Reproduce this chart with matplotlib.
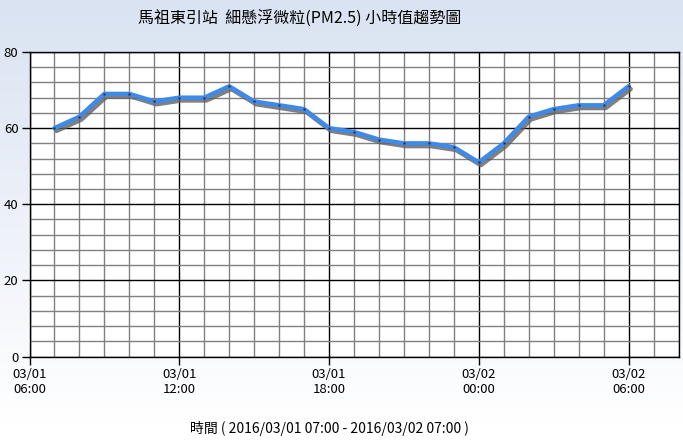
import matplotlib
matplotlib.use("Agg")
import matplotlib.pyplot as plt
import matplotlib.patheffects as pe
import numpy as np
from matplotlib.ticker import MultipleLocator, FixedLocator

plt.rcParams['font.family'] = ['Noto Sans CJK TC', 'DejaVu Sans']

# hours since 2016/03/01 06:00
hours = [1, 2, 3, 4, 5, 6, 7, 8, 9, 10, 11, 12, 13, 14, 15, 16, 17, 18,
         19, 20, 21, 22, 23, 24]
pm25 = [60, 63, 69, 69, 67, 68, 68, 71, 67, 66, 65, 60, 59, 57, 56, 56,
        55, 51, 56, 63, 65, 66, 66, 71]
tick_hours = [0, 6, 12, 18, 24]
tick_labels = ["03/01\n06:00", "03/01\n12:00", "03/01\n18:00",
               "03/02\n00:00", "03/02\n06:00"]
y_ticks = [0, 20, 40, 60, 80]
title = "馬祖東引站  細懸浮微粒(PM2.5) 小時值趨勢圖"
xlabel = "時間 ( 2016/03/01 07:00 - 2016/03/02 07:00 )"

W, H = 683, 446
fig = plt.figure(figsize=(W / 100, H / 100), dpi=100)

# background gradient
bg = fig.add_axes([0, 0, 1, 1], zorder=-10)
top = np.array([218, 227, 242]) / 255
bot = np.array([255, 255, 255]) / 255
t = np.linspace(0, 1, 256)[:, None]
t = np.clip(t / 0.95, 0, 1)
grad = top[None, :] * (1 - t) + bot[None, :] * t
bg.imshow(grad[:, None, :].repeat(2, axis=1), aspect='auto', extent=[0, 1, 0, 1])
bg.set_axis_off()

left, right = 29.5 / W, 678.5 / W
ytop, ybot = 52 / H, 356.5 / H
ax = fig.add_axes([left, 1 - ybot, right - left, ybot - ytop])
ax.set_facecolor('white')
ax.set_xlim(0, 26)
ax.set_ylim(0, 80)

ax.xaxis.set_major_locator(FixedLocator(tick_hours))
ax.set_xticklabels(tick_labels)
ax.xaxis.set_minor_locator(MultipleLocator(1))
ax.yaxis.set_major_locator(FixedLocator(y_ticks))
ax.yaxis.set_minor_locator(MultipleLocator(4))

ax.grid(which='minor', color='#808080', linewidth=1.0)
ax.grid(which='major', color='black', linewidth=1.0)
ax.set_axisbelow(True)
ax.tick_params(which='major', length=6, width=1, color='black',
               labelsize=9.5, pad=2)
ax.tick_params(which='minor', length=0)
for s in ax.spines.values():
    s.set_color('black')
    s.set_linewidth(1.0)

ax.plot(hours, pm25, color='#3f8ae6', linewidth=3.2,
        solid_capstyle='round', solid_joinstyle='round', zorder=5,
        path_effects=[pe.SimpleLineShadow(offset=(1.5, -2),
                                          shadow_color='#606060',
                                          alpha=0.8, linewidth=3.2),
                      pe.Normal()])
ax.plot(hours, pm25, linestyle='none', marker='s', markersize=1.4,
        markeredgewidth=0, color='#222222', zorder=6)

fig.text(300 / W, 1 - 18 / H, title, ha='center', va='center', fontsize=11.5)
fig.text(329 / W, 1 - 428 / H, xlabel, ha='center', va='center', fontsize=10)

fig.savefig("out.png", dpi=100)
